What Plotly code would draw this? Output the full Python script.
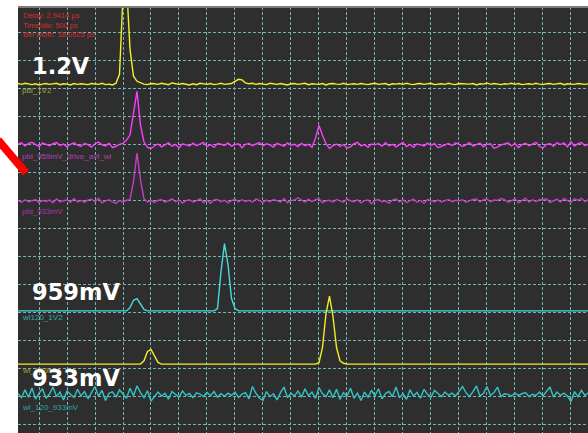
import numpy as np
import plotly.graph_objects as go

# ---------------- data (mV, 100 mV/div; time in ns, 0.5 ns/div) ----------------
t_start = -0.375
t_step = 0.0625
n_samples = 164

offset_pbl_1V2 = 1214
offset_pbl_959 = 996
offset_pbl_933 = 796
offset_wl120_1V2 = 404
offset_wl_959 = 214
offset_wl_120_933 = 104

pbl_1V2 = [2,-1,3,0,-2,1,-3,0,2,-1,
           0,3,-2,1,0,-3,2,-1,1,0,
           -2,2,0,-1,3,-2,0,-3,
           3,35,320,360,125,28,10,4,
           0,-2,2,1,
           -1,3,0,-2,4,1,-1,2,0,-3,
           1,-2,3,0,-1,2,-2,0,3,-1,
           0,2,10,17,15,4,
           1,3,-1,2,
           0,-2,3,1,-1,2,0,-3,1,2,
           -1,0,3,-2,1,0,-1,2,-3,1,
           2,0,-1,3,-2,0,1,-1,2,0,
           -2,1,3,-1,0,2,-3,1,0,2,
           -1,3,0,-2,1,2,-1,0,3,-2,
           0,1,-1,3,0,-2,2,1,-1,0,
           2,-3,1,0,4,-1,2,0,-2,1,
           0,3,-1,2,-2,0,1,-1,3,0,
           -2,1,2,-1,0,3,-2,1,0,-1,
           2,0,-1,1]

pbl_959 = [4,8,-3,6,10,2,-5,7,3,-2,
           5,9,-1,4,-6,3,8,0,-4,6,
           2,-7,5,11,1,-3,7,-9,-4,3,
           6,
           18,36,107,192,71,11,
           -8,-12,-3,
           4,-6,2,8,-4,3,-10,5,1,-3,
           7,-2,4,10,-5,2,-8,6,3,-1,
           8,-4,2,5,-9,3,6,-2,4,9,
           -3,5,1,-7,6,2,-4,8,0,3,
           -5,6,-2,3,-8,
           25,70,35,5,
           -12,-2,4,-5,2,-10,-6,5,10,-3,2,
           -8,4,1,6,-4,9,-2,3,-6,2,
           10,-5,3,-8,4,1,-3,7,-1,5,
           -9,-4,2,6,-2,8,3,-5,1,9,
           -4,2,7,-6,3,5,-11,-7,1,4,
           8,-3,6,-9,2,7,-2,4,10,-5,
           -10,3,6,-4,9,2,8,-6,12,-3,
           5,9,-2,4]

pbl_933 = [2,-4,5,-2,1,6,-5,3,-1,4,
           -6,8,-2,1,5,-4,9,-3,2,-5,
           4,7,-2,10,-6,1,5,-3,-8,2,
           -2,3,
           5,70,172,75,8,
           -3,2,-5,
           3,6,-4,1,8,-2,4,-7,2,5,
           -3,1,9,-5,2,-8,4,6,-2,3,
           -6,2,7,-3,5,-1,3,-4,8,2,
           -5,4,-2,6,1,-3,9,-6,2,4,
           12,3,-4,7,-2,5,8,-5,1,3,
           -3,6,2,-4,8,1,-2,5,-6,2,
           4,-9,3,6,-2,1,-7,4,8,-3,
           5,-5,2,7,-4,3,-8,6,1,-2,
           4,-3,2,6,-2,3,1,5,-4,2,
           6,8,-3,5,7,-2,4,3,9,5,
           -4,2,8,-6,3,11,-3,5,-2,6,
           4,9,-5,2,7,-3,10,2,-4,8,
           3,10,-2,6]

wl120_1V2 = [0]*32 + [12,38,44,22,5] + [0]*20 + [8,140,240,165,45,8] + [0]*101

wl_959 = [0]*36 + [12,45,52,28,6] + [0]*45 + [5,60,180,243,170,60,12,3] + [0]*70

wl_120_933 = [5,-10,18,-8,25,-15,6,22,-12,3,
              28,-6,10,-18,14,4,-9,20,-4,12,
              -14,8,30,-5,16,-20,6,11,-8,18,
              2,-12,24,-3,32,8,-10,15,-22,-6,
              10,-4,6,-15,12,2,-8,14,-2,5,
              -10,7,3,-6,9,-3,12,-8,4,-5,
              6,-2,10,-9,3,8,-14,30,5,-12,
              -20,12,-6,4,-18,8,28,-10,6,-4,
              14,-8,22,-3,10,-12,26,4,-6,18,
              -10,20,-16,8,-4,24,-12,6,-20,10,
              -8,15,-3,22,-14,5,12,-6,28,-10,
              4,-16,18,-4,9,-12,20,2,-8,16,
              4,-6,10,-2,6,-4,12,30,8,-6,
              12,32,-4,6,30,-2,8,28,-6,4,
              2,-4,6,-2,4,8,-6,2,-2,10,
              -4,14,28,-8,10,-2,6,-4,-24,12,
              -6,16,-2,8]

traces = [
    ("pbl_1V2", pbl_1V2, offset_pbl_1V2, "#f2f226"),
    ("pbl_959mV_drive_avt_wl", pbl_959, offset_pbl_959, "#ff3cff"),
    ("pbl_933mV", pbl_933, offset_pbl_933, "#c83cc8"),
    ("wl120_1V2", wl120_1V2, offset_wl120_1V2, "#44dcdc"),
    ("wl_959mV", wl_959, offset_wl_959, "#eeee22"),
    ("wl_120_933mV", wl_120_933, offset_wl_120_933, "#34c4c4"),
]

t = t_start + t_step * np.arange(n_samples)

# ---------------- figure ----------------
W, H = 588, 433
L, T = 18, 7
PW, PH = W - L, H - T

def px(x):
    return (x - L) / PW

def py(y):
    return (H - y) / PH

fig = go.Figure()
for name, vals, off, col in traces:
    fig.add_trace(go.Scatter(x=t, y=np.array(vals) + off, mode="lines", name=name,
                             line=dict(color=col, width=1.4), hoverinfo="skip"))

grid = dict(showgrid=True, gridcolor="#76b4b4", gridwidth=1, griddash="3px,2px",
            zeroline=False, showline=False, showticklabels=False, ticks="")
fig.update_xaxes(range=[-0.375, 9.804], tick0=0, dtick=0.5, **grid)
fig.update_yaxes(range=[-32.1, 1489.3], tick0=0, dtick=100, **grid)

ann = []
small = "Liberation Sans, Arial, sans-serif"
P = dict(xref="paper", yref="paper", showarrow=False, xanchor="left", yanchor="middle")
for i, txt in enumerate(["Delay: 2,9414 µs", "Time/div: 500 ps", "Bin width: 38,0625 ps"]):
    ann.append(dict(x=px(21), y=py(16 + 9 * i), text=txt,
                    font=dict(family=small, size=7.5, color="#d82a2a"), **P))
labels = [("pbl_1V2", 91, "#a8a832"), ("pbl_959mV_drive_avt_wl", 156, "#b440b4"),
          ("pbl_933mV", 211, "#a834a8"), ("wl120_1V2", 317, "#30aaaa"),
          ("wl_959mV", 370, "#a0a020"), ("wl_120_933mV", 407, "#30a4a4")]
for txt, yy, col in labels:
    ann.append(dict(x=px(20), y=py(yy), text=txt,
                    font=dict(family=small, size=8, color=col), **P))
for txt, yy in [("1.2V", 66), ("959mV", 292), ("933mV", 378)]:
    ann.append(dict(x=px(30), y=py(yy), text="<b>" + txt + "</b>",
                    font=dict(family="DejaVu Sans", size=22.5, color="white"), **P))

shapes = [
    dict(type="line", xref="paper", yref="paper", x0=0, x1=1, y0=1, y1=1,
         line=dict(color="#7a7a7a", width=2)),
    dict(type="line", xref="paper", yref="paper", x0=px(-2), y0=py(140), x1=px(26), y1=py(173),
         line=dict(color="#ff0000", width=8), layer="above"),
]

fig.update_layout(width=W, height=H, margin=dict(l=L, r=0, t=T, b=0, pad=0),
                  paper_bgcolor="white", plot_bgcolor="#2e2e2e", showlegend=False,
                  annotations=ann, shapes=shapes)

fig.write_html("out.html", config={"displayModeBar": False},
               post_script="document.body.style.margin='0';document.body.style.overflow='hidden';")
